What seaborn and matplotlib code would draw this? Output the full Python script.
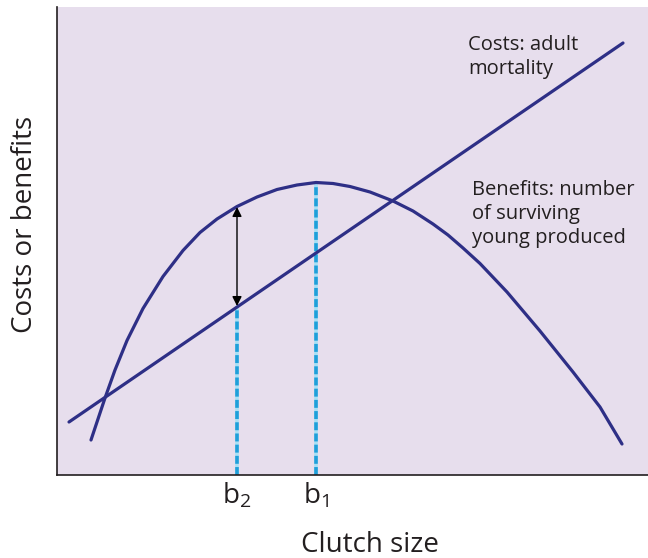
import seaborn as sns
import matplotlib.pyplot as plt
import pandas as pd
import numpy as np

# curve values (arbitrary units)
benefit_x = [34, 48, 58, 70, 86, 106, 126, 143, 160, 180, 200, 220, 240, 259,
             276, 293, 313, 336, 356, 376, 391, 406, 423, 450, 483, 516, 543, 565]
benefit_y = [35, 77, 105, 134.5, 166.5, 198.5, 224.5, 242.5, 256, 268.5, 278, 285.5, 290, 292.5,
             291.5, 288.5, 283, 274, 264, 251, 240, 227, 211.5, 183, 144, 103, 68, 31]
cost_x = [12, 566]
cost_y = [53, 432]

b_pos = [180, 259]
b_labels = ["b$_2$", "b$_1$"]
b_tops = [168, 292.5]

sns.set_style("white")
plt.rcParams["font.family"] = ["Open Sans", "DejaVu Sans"]
plt.rcParams["mathtext.default"] = "regular"

navy = "#2e2f86"
cian = "#1f9fd9"
ink = "#231f20"

fig = plt.figure(figsize=(6.48, 5.58), dpi=100)
ax = fig.add_axes([57 / 648, 83 / 558, 591 / 648, 468 / 558])
ax.set_facecolor("#e7deed")

# dashed cyan guides
for xb, yt in zip(b_pos, b_tops):
    ax.plot([xb, xb], [0, yt], color="#a6e0f5", lw=2.6, zorder=2)
    ax.plot([xb, xb], [0, yt], color=cian, lw=2.6, dashes=(2.2, 0.9), zorder=2)

datos_b = pd.DataFrame({"x": benefit_x, "y": benefit_y})
datos_c = pd.DataFrame({"x": cost_x, "y": cost_y})
sns.lineplot(data=datos_b, x="x", y="y", ax=ax, color=navy, lw=2.3, sort=False,
             zorder=3, solid_joinstyle="round", solid_capstyle="round")
sns.lineplot(data=datos_c, x="x", y="y", ax=ax, color=navy, lw=2.3, sort=False,
             zorder=3, solid_capstyle="round")

# double arrow between the curves at b2
ax.annotate("", xy=(b_pos[0], 268), xytext=(b_pos[0], 169),
            arrowprops=dict(arrowstyle="<|-|>", color="black", lw=1.0,
                            mutation_scale=14, shrinkA=0, shrinkB=0), zorder=4)

ax.text(411, 440, "Costs: adult\nmortality", fontsize=14.5, color=ink,
        va="top", ha="left", linespacing=1.25)
ax.text(415, 295, "Benefits: number\nof surviving\nyoung produced", fontsize=14.5,
        color=ink, va="top", ha="left", linespacing=1.25)

ax.set_xlim(0, 591)
ax.set_ylim(0, 468)
ax.set_xticks(b_pos)
ax.set_xticklabels(b_labels, fontsize=20, color=ink)
ax.set_yticks([])
ax.tick_params(axis="x", length=0, pad=4)

ax.set_xlabel("Clutch size", fontsize=20, color=ink)
ax.set_ylabel("Costs or benefits", fontsize=20, color=ink)
ax.xaxis.set_label_coords(0.53, -0.12)
ax.yaxis.set_label_coords(-0.03, 0.536)

for s in ["top", "right"]:
    ax.spines[s].set_visible(False)
for s in ["left", "bottom"]:
    ax.spines[s].set_color(ink)
    ax.spines[s].set_linewidth(1.2)

plt.savefig("out.png", dpi=100)
